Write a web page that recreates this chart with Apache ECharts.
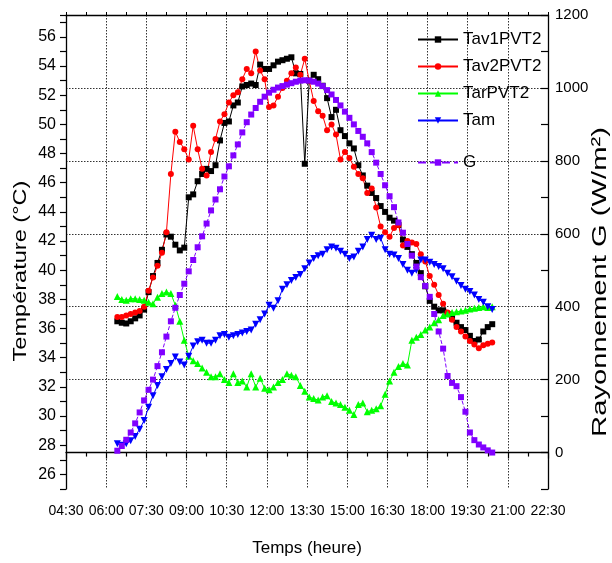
<!DOCTYPE html>
<html><head><meta charset="utf-8">
<script src="https://cdn.jsdelivr.net/npm/echarts@6/dist/echarts.min.js"></script>
<style>html,body{margin:0;padding:0;background:#fff}#c{width:612px;height:563px}</style>
</head><body><div id="c"></div>
<script>
const times = [
"06:25","06:35","06:45","06:55","07:05","07:15","07:25","07:35","07:45","07:55",
"08:05","08:15","08:25","08:35","08:45","08:55","09:05","09:15","09:25","09:35",
"09:45","09:55","10:05","10:15","10:25","10:35","10:45","10:55","11:05","11:15",
"11:25","11:35","11:45","11:55","12:05","12:15","12:25","12:35","12:45","12:55",
"13:05","13:15","13:25","13:35","13:45","13:55","14:05","14:15","14:25","14:35",
"14:45","14:55","15:05","15:15","15:25","15:35","15:45","15:55","16:05","16:15",
"16:25","16:35","16:45","16:55","17:05","17:15","17:25","17:35","17:45","17:55",
"18:05","18:15","18:25","18:35","18:45","18:55","19:05","19:15","19:25","19:35",
"19:45","19:55","20:05","20:15","20:25"];

const tav1PVT2 = [
36.5,36.4,36.35,36.5,36.7,36.9,37.3,38.5,39.6,40.5,
41.4,42.45,42.3,41.75,41.36,41.55,45.0,45.2,46.1,46.6,
46.95,46.8,47.2,48.9,50.1,50.2,51.3,51.5,52.6,52.7,
52.8,52.7,54.1,53.8,53.8,54.05,54.3,54.4,54.5,54.6,
53.5,53.46,47.3,53.0,53.4,53.1,52.65,51.8,50.5,51.0,
49.6,49.2,48.7,48.35,47.2,46.5,45.8,45.3,44.95,44.4,
44.0,43.6,43.4,43.1,42.1,41.6,41.1,40.5,39.8,38.9,
37.9,37.5,37.25,37.25,37.0,36.7,36.4,36.1,35.9,35.5,
35.15,35.25,35.8,36.1,36.3];

const tav2PVT2 = [
36.8,36.8,36.9,37.0,37.1,37.2,37.5,38.6,39.5,40.3,
41.2,42.6,46.6,49.5,48.8,48.3,47.6,49.9,48.3,46.95,
46.5,48.1,49.0,50.2,50.7,51.5,52.0,52.2,53.1,53.8,
53.5,55.0,53.7,53.1,51.2,51.3,51.9,52.5,53.0,53.5,
53.9,53.4,54.5,53.0,51.6,50.9,50.6,49.6,50.0,49.3,
47.6,48.1,47.7,47.1,46.6,46.3,45.3,45.6,44.3,43.0,
42.6,42.3,42.9,43.1,41.7,42.0,41.9,41.8,41.1,40.6,
39.6,39.0,38.3,37.7,37.1,36.6,36.1,35.8,35.45,35.15,
34.9,34.65,34.85,34.96,35.05];

const tarPVT2 = [
38.2,38.0,37.95,38.05,38.05,38.0,37.95,37.8,37.7,38.15,
38.4,38.5,38.4,37.6,36.5,35.2,34.1,33.8,33.6,33.3,
33.0,32.7,32.7,32.9,32.5,32.3,32.9,32.3,32.4,32.0,
32.9,32.0,32.6,31.9,31.8,32.0,32.3,32.5,32.9,32.8,
32.7,32.1,31.7,31.3,31.2,31.1,31.3,31.4,31.0,30.9,
30.8,30.6,30.4,30.1,30.8,30.9,30.3,30.4,30.5,30.7,
31.5,32.4,33.0,33.4,33.6,33.5,35.2,35.4,35.6,35.9,
36.1,36.4,36.6,36.9,37.0,37.1,37.15,37.2,37.25,37.35,
37.4,37.45,37.5,37.45,37.5];

const tam = [
28.1,28.0,28.1,28.3,28.6,29.1,29.7,30.6,31.4,32.1,
32.7,33.2,33.6,34.05,33.7,33.5,34.1,34.8,35.1,35.2,
35.0,35.0,35.2,35.5,35.6,35.4,35.5,35.6,35.7,35.8,
35.9,36.3,36.6,37.0,37.6,37.4,37.9,38.7,39.0,39.3,
39.5,39.7,40.1,40.5,40.8,41.0,41.1,41.4,41.6,41.5,
41.3,41.1,40.8,40.9,41.3,41.6,42.1,42.4,42.1,42.2,
41.4,41.1,41.05,40.8,40.4,40.0,39.8,40.0,40.7,40.7,
40.55,40.4,40.25,40.1,39.8,39.55,39.25,38.95,38.7,38.55,
38.3,38.0,37.8,37.5,37.3];

const gRay = [
5,18,35,55,80,110,143,172,200,237,
275,318,360,397,432,463,497,528,563,593,
628,664,694,722,757,785,815,845,878,906,
927,945,962,976,987,995,1001,1005,1009,1013,
1017,1020,1021,1020,1017,1012,1005,994,982,967,
952,935,918,900,882,866,848,824,795,764,
733,703,673,631,603,572,540,510,481,457,
427,380,332,285,210,191,182,152,112,55,
34,22,14,6,0];

const seriesNames = ["Tav1PVT2","Tav2PVT2","TarPVT2","Tam","G"];
const xTitle = "Temps (heure)";
const yLeftTitle = "Température (°C)";
const yRightTitle = "Rayonnement G (W/m²)";

function toHours(s){ const p = s.split(':'); return (+p[0]) + (+p[1])/60; }
const xs = times.map(toHours);
const pair = arr => arr.map((v,i) => [xs[i], v]);
function fmtTime(v){
  const h = Math.floor(v + 1e-6); const m = Math.round((v - h) * 60);
  return String(h).padStart(2,'0') + ':' + String(m).padStart(2,'0');
}
const FONT = "'Liberation Sans', Arial, sans-serif";
const axisLineStyle = {color:'#000', width:1.3};
const gridDot = {color:'#333', width:1, type:[1.5,1.5]};

const chart = echarts.init(document.getElementById('c'), null, {renderer:'canvas'});
const option = {
  animation:false,
  backgroundColor:'#fff',
  grid:{left:66, right:64, top:15, bottom:74, containLabel:false},
  xAxis:[
    {type:'value', min:4.5, max:22.5, interval:1.5, position:'bottom',
     axisLine:{show:true, lineStyle:axisLineStyle},
     axisTick:{show:true, length:6, lineStyle:{color:'#000', width:1.2}},
     minorTick:{show:true, splitNumber:2, length:4, lineStyle:{color:'#000', width:1.2}},
     axisLabel:{formatter:fmtTime, color:'#000', fontFamily:FONT, fontSize:14, margin:15},
     splitLine:{show:true, lineStyle:gridDot}},
    {type:'value', min:4.5, max:22.5, interval:1.5, position:'top',
     axisLine:{show:true, lineStyle:axisLineStyle},
     axisTick:{show:true, length:3, lineStyle:{color:'#000'}},
     minorTick:{show:true, splitNumber:2, length:3, lineStyle:{color:'#000'}},
     axisLabel:{show:false}, splitLine:{show:false}}
  ],
  yAxis:[
    {type:'value', min:25, max:57.5, interval:1, position:'left',
     axisLine:{show:true, lineStyle:axisLineStyle},
     axisTick:{show:true, length:6, lineStyle:{color:'#000', width:1.2}},
     axisLabel:{formatter:v => (Math.abs(v % 2) < 1e-6 ? String(v) : ''), color:'#000', fontFamily:FONT, fontSize:16, margin:10},
     splitLine:{show:false}},
    {type:'value', min:-100, max:1200, interval:100, position:'right',
     axisLine:{show:true, lineStyle:axisLineStyle},
     axisTick:{show:true, inside:true, length:7, lineStyle:{color:'#000', width:1.2}},
     axisLabel:{formatter:v => (Math.abs(v % 200) < 1e-6 ? String(v) : ''), color:'#000', fontFamily:FONT, fontSize:15, margin:7},
     splitLine:{show:true, lineStyle:{color:['rgba(0,0,0,0)','#333'], width:1, type:[1.5,1.5]}}}
  ],
  legend:[
    {data:seriesNames.slice(0,4), orient:'vertical', left:417, top:31, padding:0,
     itemWidth:40, itemHeight:8, itemGap:10,
     textStyle:{fontSize:17, fontFamily:FONT, color:'#000', lineHeight:17}},
    {data:[seriesNames[4]], orient:'vertical', left:417, top:154, padding:0,
     itemWidth:40, itemHeight:8,
     textStyle:{fontSize:17, fontFamily:FONT, color:'#000', lineHeight:17}}
  ],
  graphic:[
    {type:'text', x:21, y:271, rotation:Math.PI/2, scaleX:1.24,
     style:{text:yLeftTitle, fontSize:19, fontFamily:FONT, fill:'#000', textAlign:'center', textVerticalAlign:'middle', align:'center', verticalAlign:'middle'}},
    {type:'text', x:600, y:282, rotation:Math.PI/2, scaleX:1.39,
     style:{text:yRightTitle, fontSize:21, fontFamily:FONT, fill:'#000', textAlign:'center', textVerticalAlign:'middle', align:'center', verticalAlign:'middle'}},
    {type:'text', x:307, y:548,
     style:{text:xTitle, fontSize:17, fontFamily:FONT, fill:'#000', textAlign:'center', textVerticalAlign:'middle', align:'center', verticalAlign:'middle'}}
  ],
  series:[
    {name:seriesNames[0], type:'line', data:pair(tav1PVT2), symbol:'rect', symbolSize:6, showAllSymbol:true,
     itemStyle:{color:'#000'}, lineStyle:{color:'#000', width:1}},
    {name:seriesNames[1], type:'line', data:pair(tav2PVT2), symbol:'circle', symbolSize:6, showAllSymbol:true,
     itemStyle:{color:'#ff0000'}, lineStyle:{color:'#ff0000', width:1}},
    {name:seriesNames[2], type:'line', data:pair(tarPVT2), symbol:'triangle', symbolSize:7, showAllSymbol:true,
     itemStyle:{color:'#00ff00'}, lineStyle:{color:'#00ff00', width:1}},
    {name:seriesNames[3], type:'line', data:pair(tam), symbol:'triangle', symbolRotate:180, symbolSize:7, showAllSymbol:true,
     itemStyle:{color:'#0000ff'}, lineStyle:{color:'#0000ff', width:1}},
    {name:seriesNames[4], type:'line', yAxisIndex:1, data:pair(gRay), symbol:'rect', symbolSize:6, showAllSymbol:true,
     itemStyle:{color:'#8000ff'}, lineStyle:{color:'#8000ff', width:1, type:'dashed'}}
  ]
};
chart.setOption(option);
</script>
</body></html>
